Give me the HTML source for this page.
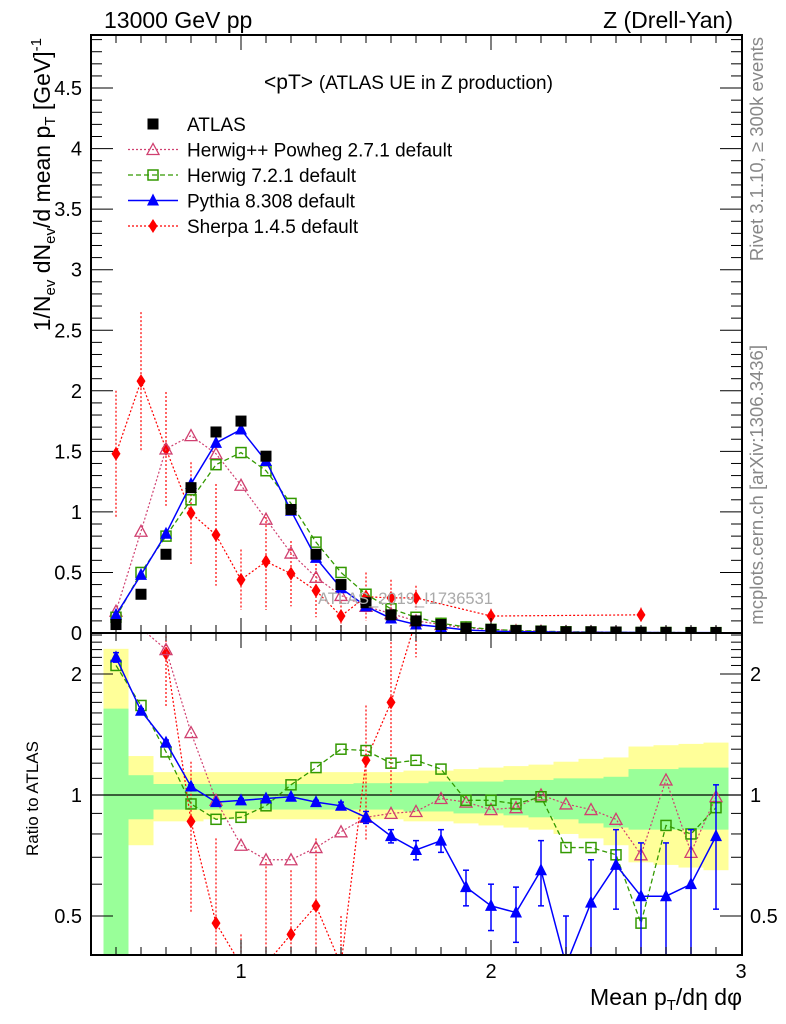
<!DOCTYPE html>
<html><head><meta charset="utf-8"><style>
html,body{margin:0;padding:0;background:#fff;width:786px;height:1024px;overflow:hidden}
svg{font-family:"Liberation Sans",sans-serif;display:block}
</style></head><body>
<svg id="chart" width="786" height="1024" xmlns="http://www.w3.org/2000/svg">
<defs>
<clipPath id="cm"><rect x="91" y="35" width="651" height="598"/></clipPath>
<clipPath id="cr"><rect x="91" y="633" width="651" height="322"/></clipPath>
</defs>
<g id="bands" clip-path="url(#cr)"></g>
<g id="main" clip-path="url(#cm)"></g>
<g id="ratio" clip-path="url(#cr)"></g>
<g id="axes"></g>
<text x="104" y="28" font-size="23">13000 GeV pp</text>
<text x="733" y="28" font-size="23" text-anchor="end">Z (Drell-Yan)</text>
<text x="264" y="89" font-size="21">&lt;pT&gt; <tspan font-size="19">(ATLAS UE in Z production)</tspan></text>
<text x="318" y="604" font-size="16.5" fill="#aaa">ATLAS_2019_I1736531</text>
<text transform="translate(763,37) rotate(-90)" font-size="18.5" fill="#888" text-anchor="end">Rivet 3.1.10, ≥ 300k events</text>
<text transform="translate(763,345) rotate(-90)" font-size="18.5" fill="#888" text-anchor="end">mcplots.cern.ch [arXiv:1306.3436]</text>
<text transform="translate(50,38) rotate(-90)" font-size="23" text-anchor="end">1/N<tspan font-size="15" dy="5">ev</tspan><tspan dy="-5"> dN</tspan><tspan font-size="15" dy="5">ev</tspan><tspan dy="-5">/d mean p</tspan><tspan font-size="15" dy="5">T</tspan><tspan dy="-5">  [GeV]</tspan><tspan font-size="15" dy="-9">-1</tspan></text>
<text transform="translate(38,856) rotate(-90)" font-size="17">Ratio to ATLAS</text>
<text x="742" y="1005" font-size="23" text-anchor="end">Mean p<tspan font-size="15" dy="5">T</tspan><tspan dy="-5">/dη dφ</tspan></text>
<g id="legend"></g>
</svg>
<script>
const xs=[0.5,0.6,0.7,0.8,0.9,1.0,1.1,1.2,1.3,1.4,1.5,1.6,1.7,1.8,1.9,2.0,2.1,2.2,2.3,2.4,2.5,2.6,2.7,2.8,2.9];
const atlas=[0.07,0.32,0.65,1.2,1.66,1.75,1.46,1.02,0.65,0.4,0.25,0.15,0.1,0.07,0.04,0.03,0.02,0.015,0.01,0.01,0.008,0.006,0.005,0.004,0.004];
const pythia=[0.15,0.48,0.82,1.23,1.57,1.68,1.42,1.01,0.62,0.37,0.22,0.12,0.07,0.05,0.025,0.016,0.01,0.01,0.005,0.005,0.005,0.004,0.003,0.003,0.003];
const herwig7=[0.13,0.5,0.8,1.1,1.39,1.49,1.34,1.07,0.75,0.5,0.32,0.2,0.13,0.08,0.05,0.03,0.02,0.015,0.01,0.008,0.006,0.004,0.004,0.003,0.003];
const herwigpp=[0.18,0.84,1.52,1.63,1.48,1.22,0.94,0.66,0.46,0.31,0.22,0.16,0.1,0.07,0.04,0.03,0.02,0.015,0.01,0.009,0.007,0.004,0.005,0.003,0.004];
const sherpaX=[0.5,0.6,0.7,0.8,0.9,1.0,1.1,1.2,1.3,1.4,1.5,1.6,1.7,2.0,2.6];
const sherpa=[1.48,2.08,1.52,0.99,0.81,0.44,0.59,0.49,0.35,0.14,0.30,0.29,0.29,0.14,0.15];
const sherpaErr=[0.52,0.57,0.47,0.42,0.42,0.25,0.4,0.27,0.22,0.12,0.2,0.15,0.1,0.06,0.06];
const rPythia=[2.2,1.62,1.35,1.05,0.96,0.97,0.98,0.99,0.96,0.94,0.88,0.79,0.73,0.77,0.59,0.53,0.51,0.65,0.35,0.54,0.67,0.56,0.56,0.6,0.79];
const rPythiaErr=[0.06,0.02,0.02,0.01,0.01,0.01,0.01,0.01,0.01,0.02,0.03,0.03,0.04,0.05,0.06,0.07,0.08,0.12,0.15,0.15,0.15,0.2,0.2,0.22,0.27];
const rHerwig7=[2.1,1.67,1.28,0.95,0.87,0.88,0.94,1.06,1.17,1.3,1.29,1.2,1.22,1.16,0.97,0.97,0.95,0.99,0.74,0.74,0.71,0.48,0.84,0.8,0.93];
const rHerwigpp=[2.6,2.6,2.3,1.43,0.97,0.75,0.69,0.69,0.74,0.81,0.88,0.9,0.91,0.98,0.96,0.92,0.93,1.0,0.95,0.92,0.87,0.71,1.09,0.72,0.99];
const rSherpaX=[0.7,0.8,0.9,1.0,1.1,1.2,1.3,1.4,1.5,1.6,1.7];
const rSherpa=[2.25,0.86,0.48,0.25,0.38,0.45,0.53,0.3,1.22,1.7,3.2];
const rSherpaErr=[0.6,0.35,0.3,0.2,0.3,0.2,0.25,0.2,0.45,0.7,1.0];
const yelUp=[2.31,1.25,1.14,1.14,1.14,1.14,1.14,1.14,1.14,1.14,1.14,1.14,1.15,1.15,1.16,1.17,1.18,1.19,1.21,1.23,1.24,1.32,1.33,1.34,1.35];
const yelDn=[0.3,0.75,0.86,0.86,0.87,0.87,0.87,0.87,0.87,0.87,0.87,0.87,0.86,0.86,0.85,0.84,0.83,0.82,0.8,0.78,0.75,0.68,0.67,0.66,0.65];
const grnUp=[1.64,1.12,1.065,1.065,1.065,1.065,1.065,1.065,1.065,1.065,1.07,1.07,1.07,1.08,1.08,1.08,1.09,1.09,1.1,1.1,1.11,1.16,1.16,1.17,1.17];
const grnDn=[0.3,0.87,0.92,0.92,0.92,0.92,0.92,0.92,0.92,0.92,0.92,0.92,0.91,0.91,0.9,0.9,0.89,0.88,0.87,0.85,0.83,0.82,0.82,0.82,0.82];
const xTicks=[1,2,3];const yTicks=[0,0.5,1,1.5,2,2.5,3,3.5,4,4.5];const rTicks=[0.5,1,2];

const NS='http://www.w3.org/2000/svg';
const X=v=>91+(v-0.4)*250;
const Y=v=>633-v*121.1;
const R=v=>795-Math.log10(v)*402;
const Rc=v=>Math.min(965,Math.max(620,R(Math.max(v,1e-3))));
function mk(p,t,a){const e=document.createElementNS(NS,t);for(const k in a)e.setAttribute(k,a[k]);document.getElementById(p).appendChild(e);return e;}
function line(p,x1,y1,x2,y2,c,w,d){return mk(p,'line',{x1,y1,x2,y2,stroke:c,'stroke-width':w||1,'stroke-dasharray':d||'none'});}
function marker(p,type,x,y,c,s){
 s=s||6;let e;
 if(type==='sq')e=mk(p,'rect',{x:x-s,y:y-s,width:2*s,height:2*s,fill:c});
 else if(type==='osq')e=mk(p,'rect',{x:x-s+1,y:y-s+1,width:2*s-2,height:2*s-2,fill:'none',stroke:c,'stroke-width':1.5});
 else if(type==='tri')e=mk(p,'polygon',{points:`${x},${y-s-1} ${x-s},${y+s-1} ${x+s},${y+s-1}`,fill:c});
 else if(type==='otri')e=mk(p,'polygon',{points:`${x},${y-s} ${x-s},${y+s-1} ${x+s},${y+s-1}`,fill:'none',stroke:c,'stroke-width':1.3});
 else e=mk(p,'polygon',{points:`${x},${y-s-1} ${x-s+1.5},${y} ${x},${y+s+1} ${x+s-1.5},${y}`,fill:c});
 return e;
}
function series(p,xa,ya,fy,c,w,dash,type,name){
 const pts=xa.map((x,i)=>X(x)+','+fy(ya[i])).join(' ');
 const pl=mk(p,'polyline',{points:pts,fill:'none',stroke:c,'stroke-width':w,'stroke-dasharray':dash});
 
 
 xa.forEach((x,i)=>{const m=marker(p,type,X(x),fy(ya[i]),c);
  
  });
}
xs.forEach((x,i)=>{
 const a=mk('bands','rect',{x:X(x-0.05),y:Rc(yelUp[i]),width:25,height:Rc(yelDn[i])-Rc(yelUp[i]),fill:'#ffff99'});
 
 
 const b=mk('bands','rect',{x:X(x-0.05),y:Rc(grnUp[i]),width:25,height:Rc(grnDn[i])-Rc(grnUp[i]),fill:'#99ff99'});
 
 
});
line('bands',91,R(1),742,R(1),'#000',1.2);
sherpaX.forEach((x,i)=>{line('main',X(x),Y(sherpa[i]+sherpaErr[i]),X(x),Y(Math.max(0,sherpa[i]-sherpaErr[i])),'#f00',1.2,'2,2');});
series('main',sherpaX,sherpa,Y,'#f00',1.2,'2,2','dia','sherpa');
series('main',xs,herwigpp,Y,'#d04070',1.2,'2,2','otri','herwigpp');
series('main',xs,herwig7,Y,'#339900',1.3,'5,3','osq','herwig7');
series('main',xs,pythia,Y,'#00f',1.5,'none','tri','pythia');
xs.forEach((x,i)=>{const m=marker('main','sq',X(x),Y(atlas[i]),'#000',5.5);
 
 });
rSherpaX.forEach((x,i)=>{line('ratio',X(x),Rc(rSherpa[i]+rSherpaErr[i]),X(x),Rc(rSherpa[i]-rSherpaErr[i]),'#f00',1.2,'2,2');});
series('ratio',rSherpaX,rSherpa,Rc,'#f00',1.2,'2,2','dia','sherpa-ratio');
series('ratio',xs,rHerwigpp,Rc,'#d04070',1.2,'2,2','otri','herwigpp-ratio');
series('ratio',xs,rHerwig7,Rc,'#339900',1.3,'5,3','osq','herwig7-ratio');
xs.forEach((x,i)=>{line('ratio',X(x),Rc(rPythia[i]+rPythiaErr[i]),X(x),Rc(rPythia[i]-rPythiaErr[i]),'#00f',1.5);
 line('ratio',X(x)-3,Rc(rPythia[i]+rPythiaErr[i]),X(x)+3,Rc(rPythia[i]+rPythiaErr[i]),'#00f',1.5);
 line('ratio',X(x)-3,Rc(rPythia[i]-rPythiaErr[i]),X(x)+3,Rc(rPythia[i]-rPythiaErr[i]),'#00f',1.5);});
series('ratio',xs,rPythia,Rc,'#00f',1.5,'none','tri','pythia-ratio');
[[35,633],[633,955]].forEach(([t,b])=>{mk('axes','rect',{x:91,y:t,width:651,height:b-t,fill:'none',stroke:'#000','stroke-width':2});});
for(let k=5;k<=29;k++){const v=k/10,x=X(v),maj=(k%10===0),L=maj?15:8;
 line('axes',x,35,x,35+L,'#000',1);line('axes',x,633,x,633-L,'#000',1);
 line('axes',x,633,x,633+L,'#000',1);line('axes',x,955,x,955-L,'#000',1);}
xTicks.forEach(v=>{const t=mk('axes','text',{x:X(v),y:978,'font-size':20,'text-anchor':'middle'});t.textContent=v;
 
 });
for(let k=1;k<=49;k++){const v=k/10,y=Y(v),maj=(k%5===0),L=maj?22:11;
 line('axes',91,y,91+L,y,'#000',1);line('axes',742,y,742-L,y,'#000',1);}
yTicks.forEach(v=>{const t=mk('axes','text',{x:82,y:Y(v)+7,'font-size':20,'text-anchor':'end'});t.textContent=v;
 
 });
for(let k=4;k<=25;k++){const v=k/10;const maj=(v===0.5||v===1||v===2);const L=maj?22:11;const y=R(v);
 line('axes',91,y,91+L,y,'#000',1);line('axes',742,y,742-L,y,'#000',1);}
rTicks.forEach(v=>{[[82,'end'],[750,'start']].forEach(([x,a])=>{const t=mk('axes','text',{x,y:R(v)+7,'font-size':20,'text-anchor':a});t.textContent=v;
 
 });});
const leg=[['ATLAS','sq','#000','none',0],['Herwig++ Powheg 2.7.1 default','otri','#d04070','2,2',1.2],['Herwig 7.2.1 default','osq','#339900','5,3',1.3],['Pythia 8.308 default','tri','#00f','none',1.5],['Sherpa 1.4.5 default','dia','#f00','2,2',1.2]];
leg.forEach((l,i)=>{const y=124+i*25.5;
 if(l[4])line('legend',128,y,178,y,l[2],l[4],l[3]);
 marker('legend',l[1],153,y,l[2],l[1]==='sq'?5.5:6);
 const t=mk('legend','text',{x:187,y:y+7,'font-size':19});t.textContent=l[0];
 
 });
</script>
</body></html>
